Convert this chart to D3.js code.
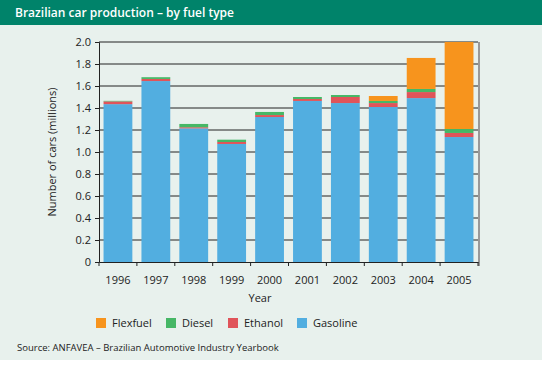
<!DOCTYPE html>
<html><head><meta charset="utf-8">
<script src="https://cdn.jsdelivr.net/npm/d3@7"></script>
<style>body{margin:0;background:#fff}svg{display:block}text{font-family:"Open Sans",Lato,sans-serif}</style>
</head><body><svg id="c" width="542" height="365"></svg>
<script>
const years = ["1996","1997","1998","1999","2000","2001","2002","2003","2004","2005"];
const gasoline = [1.435,1.645,1.215,1.073,1.318,1.464,1.445,1.409,1.49,1.136];
const ethanol  = [0.025,0.019,0.010,0.018,0.018,0.018,0.055,0.036,0.055,0.037];
const diesel   = [0.005,0.016,0.030,0.021,0.028,0.018,0.018,0.019,0.028,0.036];
const flexfuel = [0,0,0,0,0,0,0,0.045,0.282,0.791];
const yTicks = [0,0.2,0.4,0.6,0.8,1.0,1.2,1.4,1.6,1.8,2.0];
const seriesNames = ["Gasoline","Ethanol","Diesel","Flexfuel"];
const colors = {Gasoline:"#52aee0",Ethanol:"#e0545a",Diesel:"#46b766",Flexfuel:"#f7941d"};

const svg = d3.select("#c");
svg.append("rect").attr("x",0).attr("y",0).attr("width",542).attr("height",360).attr("fill","#e8f1ed");
svg.append("rect").attr("x",0).attr("y",0).attr("width",542).attr("height",25).attr("fill","#00836a");
svg.append("text").attr("x",15).attr("y",17).attr("fill","#fff").attr("font-size",12).attr("font-weight",600)
  .text("Brazilian car production \u2013 by fuel type");

const L=99,R=478,T=42,B=262;
const x = d3.scaleBand().domain(years).range([L,R]).paddingInner(0.24).paddingOuter(0.12);
const y = d3.scaleLinear().domain([0,2]).range([B,T]);

const table = years.map((yr,i)=>({year:yr,Gasoline:gasoline[i],Ethanol:ethanol[i],Diesel:diesel[i],Flexfuel:flexfuel[i]}));
const stack = d3.stack().keys(seriesNames)(table);

svg.append("g").selectAll("line").data(yTicks.filter(d=>d>0)).join("line")
  .attr("x1",L).attr("x2",R).attr("y1",d=>y(d)).attr("y2",d=>y(d)).attr("stroke","#222").attr("stroke-width",1);

svg.append("g").selectAll("g").data(stack).join("g").attr("fill",d=>colors[d.key])
  .selectAll("rect").data(d=>d).join("rect")
  .attr("x",d=>x(d.data.year)).attr("width",x.bandwidth())
  .attr("y",d=>y(d[1])).attr("height",d=>y(d[0])-y(d[1]));

svg.append("line").attr("x1",R+1).attr("x2",R+1).attr("y1",T).attr("y2",B+4).attr("stroke","#999").attr("stroke-width",2);

const ya = svg.append("g").attr("transform",`translate(${L},0)`)
  .call(d3.axisLeft(y).tickValues(yTicks).tickSize(4).tickPadding(4).tickFormat(d=>d===0?"0":d3.format(".1f")(d)));
ya.select(".domain").attr("stroke","#222");
ya.selectAll("line").attr("stroke","#222");
ya.selectAll("text").attr("font-size",11).attr("fill","#222").style("font-family","'Open Sans',sans-serif");

const xa = svg.append("g").attr("transform",`translate(0,${B})`)
  .call(d3.axisBottom(x).tickSize(0).tickPadding(14));
xa.select(".domain").attr("stroke","#222");
xa.selectAll("text").attr("font-size",11).attr("fill","#222").style("font-family","'Open Sans',sans-serif");
const step = x.step();
const bounds = years.map(yr=>x(yr)-step*x.paddingInner()/2).concat([x(years[years.length-1])+x.bandwidth()+step*x.paddingInner()/2]);
svg.append("g").selectAll("line").data(bounds).join("line")
  .attr("x1",d=>d).attr("x2",d=>d).attr("y1",B).attr("y2",B+4).attr("stroke","#222");

svg.append("text").attr("x",260).attr("y",302).attr("text-anchor","middle").attr("font-size",11).attr("fill","#222").text("Year");
svg.append("text").attr("transform",`translate(56,${(T+B)/2}) rotate(-90)`).attr("text-anchor","middle").attr("font-size",11).attr("fill","#222").text("Number of cars (millions)");

const legendItems = ["Flexfuel","Diesel","Ethanol","Gasoline"];
const lx = [96,166,228,297];
const lg = svg.append("g");
legendItems.forEach((k,i)=>{
  lg.append("rect").attr("x",lx[i]).attr("y",318).attr("width",10).attr("height",10).attr("fill",colors[k]);
  lg.append("text").attr("x",lx[i]+16).attr("y",327).attr("font-size",11).attr("fill","#222").text(k);
});
svg.append("text").attr("x",17).attr("y",351).attr("font-size",9.5).attr("fill","#222").text("Source: ANFAVEA \u2013 Brazilian Automotive Industry Yearbook");
</script></body></html>
